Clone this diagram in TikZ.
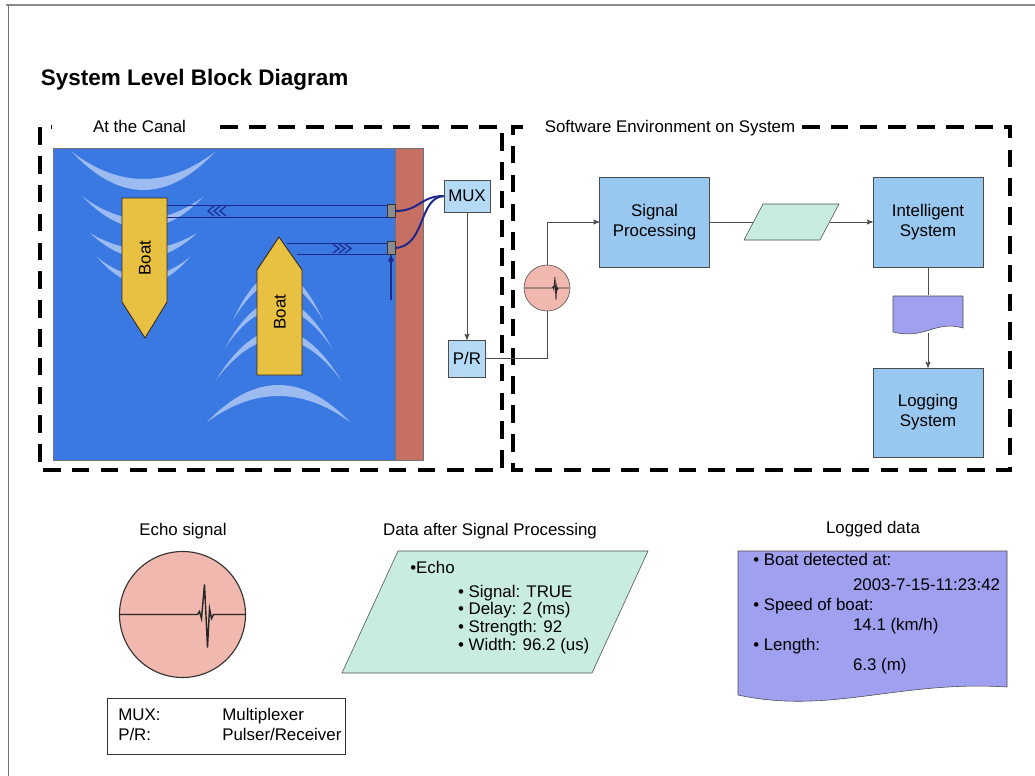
\documentclass[tikz,border=0pt]{standalone}
\usepackage{fontspec}
\setmainfont{Liberation Sans}
\usepackage{tikz}
\usetikzlibrary{calc}
\usetikzlibrary{arrows}

\definecolor{water}{RGB}{58,120,226}
\definecolor{wall}{RGB}{198,112,100}
\definecolor{boatyellow}{RGB}{232,192,66}
\definecolor{boxblue}{RGB}{152,200,240}
\definecolor{muxblue}{RGB}{180,218,246}
\definecolor{mint}{RGB}{200,236,224}
\definecolor{lavender}{RGB}{160,160,240}
\definecolor{echopink}{RGB}{240,184,174}
\definecolor{navy}{RGB}{30,40,140}

% trace of one echo, centred on (0,0), circle radius 63
\newcommand{\echotrace}[1]{
 \draw[#1] (-63,0) -- (15,0) -- (17,-3) -- (19,4) -- (22,-30) -- (25,33) -- (27,-6) -- (29,4) -- (31,0) -- (63,0);
}

\begin{document}
\begin{tikzpicture}[x=0.25mm, y=-0.25mm, >=stealth',
  every node/.style={font=\fontsize{12}{14.4}\selectfont},
  blk/.style={draw=black!70, fill=boxblue, minimum width=27.5mm, minimum height=22.5mm, align=center, inner sep=0},
  smallblk/.style={draw=black!70, fill=muxblue, inner sep=0},
  link/.style={black!70, line width=0.6pt},
  area/.style={line width=2.6pt, dash pattern=on 12.5pt off 8pt},
  beam/.style={navy, line width=0.5pt},
  cable/.style={navy, line width=1.4pt},
  wave/.style={white, opacity=0.5},
  boat/.style={fill=boatyellow, draw=black!70!brown, line width=0.6pt},
  xdcr/.style={draw=black!80, fill=black!45, minimum width=2mm, minimum height=3.25mm, inner sep=0}]
\useasboundingbox (0,0) rectangle (1035,776);

% page edge
\draw[black!45, line width=1.2pt] (6,5) -- (1035,5);
\draw[black!55, line width=0.6pt] (8,5) -- (8,776);

\node[anchor=base west, font=\bfseries\fontsize{16}{19}\selectfont] (title) at (36,85) {System Level Block Diagram};

% ---- canal ----
\fill[water] (53,148) rectangle (395,460);
\fill[wall] (395,148) rectangle (423,460);
\draw[black!55] (53,148) rectangle (423,460);
\draw[black!55] (395,148) -- (395,460);

% wakes behind the boats
\foreach \xl/\xr/\ye/\yo/\yi in {72/215/152/190/179, 83/203/197/228/219, 90/197/233/258/249, 97/190/257/284/276,
  233/323/320/272/282, 225/332/348/300/309, 216/341/380/330/339, 207/350/422/385/396}{
 \pgfmathsetmacro{\cout}{(8*\yo-2*\ye)/6}
 \pgfmathsetmacro{\cin}{(8*\yi-2*\ye)/6}
 \pgfmathsetmacro{\dw}{(\xr-\xl)/3}
 \fill[wave] (\xl,\ye) .. controls ({\xl+\dw},\cout) and ({\xr-\dw},\cout) .. (\xr,\ye)
   .. controls ({\xr-\dw},\cin) and ({\xl+\dw},\cin) .. (\xl,\ye) -- cycle;
}

\filldraw[boat] (122,198) -- (167,198) -- (167,302) -- (145,338) -- (122,302) -- cycle;
\filldraw[boat] (257,375) -- (257,270) -- (279,237) -- (302,270) -- (302,375) -- cycle;
\node[rotate=90] (boatA) at (145,258) {Boat};
\node[rotate=90] (boatB) at (280,312) {Boat};

% sensors on the wall
\node[xdcr] (tA) at (391,211) {};
\node[xdcr] (tB) at (391,248) {};

\draw[beam] (167,205) -- (387,205) (167,217) -- (387,217);
\draw[beam] (287,243) -- (387,243) (297,254) -- (387,254);
\foreach \i in {0,1,2}{
 \draw[beam, line width=0.8pt] ({214+6*\i},206) -- ({208+6*\i},211) -- ({214+6*\i},216);
 \draw[beam, line width=0.8pt] ({333+6*\i},244) -- ({339+6*\i},248.5) -- ({333+6*\i},253);
}
\draw[beam, line width=0.8pt, ->] (391,300) -- (tB.south);

\node[smallblk, minimum width=11.5mm, minimum height=8mm] (mux) at (467,196) {MUX};
\node[smallblk, minimum width=9.25mm, minimum height=9.25mm] (pr) at (467,358.5) {P/R};

\draw[cable] (tA.east) .. controls (420,211) and (420,196) .. (mux.west);
\draw[cable] (tB.east) .. controls (426,246) and (418,198) .. (mux.west);

% ---- dashed areas ----
\node[anchor=base] (canal) at (139.5,132) {At the Canal};
\draw[area] (220,127) -- (502,127) -- (502,470) -- (40,470) -- (40,127) -- (52,127);
\node[anchor=base] (soft) at (670,132) {Software Environment on System};
\draw[area] (802,127) -- (1010,127) -- (1010,470) -- (513,470) -- (513,127) -- (524,127);

% ---- software chain ----
\node[circle, draw=black!70, fill=echopink, minimum size=11.5mm, inner sep=0] (echo) at (547,288) {};
\begin{scope}[shift={(echo.center)}, scale=0.36]
 \echotrace{black!85, line width=0.6pt}
\end{scope}

\node[blk] (sp) at (654.5,222) {Signal\\Processing};
\node[minimum width=19mm, minimum height=9mm, inner sep=0] (pdat) at (791.5,222) {};
\filldraw[fill=mint, draw=black!70] (744,240) -- (763,204) -- (839,204) -- (820,240) -- cycle;
\node[blk] (is) at (928,222) {Intelligent\\System};
\node[minimum width=17.5mm, minimum height=9.25mm, inner sep=0] (note) at (928,314) {};
\filldraw[fill=lavender, draw=black!70] (893,296) -- (963,296) -- (963,328)
  .. controls (935,320) and (925,340) .. (893,332) -- cycle;
\node[blk, minimum height=22.25mm] (log) at (928,412.5) {Logging\\System};

\draw[link, ->] (mux) -- (pr);
\draw[link] (pr.east) -| (echo.south);
\draw[link, ->] (echo.north) |- (sp.west);
\draw[link] (sp) -- (pdat);
\draw[link, ->] (pdat) -- (is);
\draw[link] (is) -- (note);
\draw[link, ->] (note) -- (log);

% ---- bottom row ----
\node[anchor=base] (echoT) at (183,535) {Echo signal};
\node[circle, draw=black!80, fill=echopink, line width=0.8pt, minimum size=31.5mm, inner sep=0] (echoBig) at (182.5,614.5) {};
\begin{scope}[shift={(echoBig.center)}]
 \echotrace{black!85, line width=1pt}
\end{scope}

\node[draw=black!80, anchor=north west, inner xsep=2.75mm, inner ysep=1.9mm, text width=54mm, align=left] (legend) at (107,698)
 {\begin{tabular}{@{}p{74pt}@{}l@{}}MUX: & Multiplexer\\ P/R: & Pulser/Receiver\end{tabular}};

\node[anchor=base] (datT) at (490,535) {Data after Signal Processing};
\filldraw[fill=mint, draw=black!70] (342,673) -- (398,551) -- (648,551) -- (592,673) -- cycle;
\node[anchor=north west, align=left, inner sep=0, font=\fontsize{12}{12.5}\selectfont] (dat) at (410,561)
 {\textbullet Echo\\[4.5pt]
  \hspace*{34pt}\textbullet{} Signal: TRUE\\
  \hspace*{34pt}\textbullet{} Delay: 2 (ms)\\
  \hspace*{34pt}\textbullet{} Strength: 92\\
  \hspace*{34pt}\textbullet{} Width: 96.2 (us)};

\node[anchor=base] (logT) at (873,533) {Logged data};
\filldraw[fill=lavender, draw=black!70] (738,551) -- (1007,551) -- (1007,687)
  .. controls (900,680) and (830,715) .. (738,695) -- cycle;
\node[anchor=north west, align=left, inner sep=0, font=\fontsize{12}{14.2}\selectfont] (logd) at (753,553)
 {\textbullet{} Boat detected at:\\[3.6pt]
  \hspace*{71pt}2003-7-15-11:23:42\\
  \textbullet{} Speed of boat:\\
  \hspace*{71pt}14.1 (km/h)\\
  \textbullet{} Length:\\
  \hspace*{71pt}6.3 (m)};
\end{tikzpicture}
\end{document}
